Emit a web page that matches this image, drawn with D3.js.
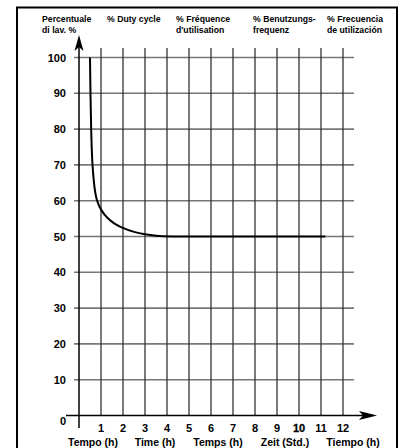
<!DOCTYPE html>
<html>
<head>
<meta charset="utf-8">
<script src="https://cdn.jsdelivr.net/npm/d3@7/dist/d3.min.js"></script>
<style>
  html, body { margin: 0; padding: 0; background: #fff; }
  svg { display: block; font-family: "Liberation Sans", Arial, sans-serif; font-weight: bold; }
</style>
</head>
<body>
<svg id="chart" width="401" height="448"></svg>
<script>
// Duty cycle (%) versus operating time (h)
const hours = [0.5, 0.52, 0.55, 0.6, 0.7, 0.8, 1, 1.3, 1.6, 2, 2.5, 3, 3.5, 4, 6, 8, 10, 11.2];
const dutyCycle = [100, 90, 80, 70, 63.5, 60, 57.3, 55, 53.6, 52.3, 51.2, 50.6, 50.2, 50, 50, 50, 50, 50];

const xTicks = [1, 2, 3, 4, 5, 6, 7, 8, 9, 10, 11, 12];
const yTicks = [10, 20, 30, 40, 50, 60, 70, 80, 90, 100];

const yTitle = ["Percentuale", "di lav. %"];
const headerTitles = [
  ["% Duty cycle"],
  ["% Fréquence", "d'utilisation"],
  ["% Benutzungs-", "frequenz"],
  ["% Frecuencia", "de utilización"]
];
const footerTitles = ["Tempo (h)", "Time (h)", "Temps (h)", "Zeit (Std.)", "Tiempo (h)"];

const svg = d3.select("#chart");

const x = d3.scaleLinear().domain([0, 12]).range([79, 343]);
const y = d3.scaleLinear().domain([0, 100]).range([415.5, 57.5]);

// outer frame
svg.append("path")
  .attr("d", "M17,449 V7.5 H397 V449")
  .attr("fill", "none").attr("stroke", "#000").attr("stroke-width", 2);

// horizontal grid
svg.append("g").selectAll("line").data(yTicks).join("line")
  .attr("x1", 74).attr("x2", 354)
  .attr("y1", d => y(d)).attr("y2", d => y(d))
  .attr("stroke", "#777").attr("stroke-width", 1.6);

// vertical grid
svg.append("g").selectAll("line").data(xTicks).join("line")
  .attr("x1", d => x(d)).attr("x2", d => x(d))
  .attr("y1", 48).attr("y2", y(0))
  .attr("stroke", "#333").attr("stroke-width", 1.3);

// x axis with arrow
svg.append("line")
  .attr("x1", 66).attr("x2", 364)
  .attr("y1", y(0)).attr("y2", y(0))
  .attr("stroke", "#000").attr("stroke-width", 1.5);
svg.append("path")
  .attr("d", `M377,${y(0)} L359,${y(0) - 4.5} L363,${y(0)} L359,${y(0) + 4.5} Z`)
  .attr("fill", "#000");

// y axis with arrow
svg.append("line")
  .attr("x1", x(0)).attr("x2", x(0))
  .attr("y1", 46).attr("y2", 428)
  .attr("stroke", "#000").attr("stroke-width", 1.5);
svg.append("path")
  .attr("d", `M${x(0)},35 L${x(0) - 4.5},51 L${x(0)},47 L${x(0) + 4.5},51 Z`)
  .attr("fill", "#000");

// y tick labels
svg.append("g").selectAll("text").data(yTicks).join("text")
  .attr("x", 66).attr("y", d => y(d) + 4)
  .attr("text-anchor", "end").attr("font-size", 11)
  .text(d => d);
svg.append("text").attr("x", 66).attr("y", 425)
  .attr("text-anchor", "end").attr("font-size", 11).text("0");

// x tick labels
svg.append("g").selectAll("text").data(xTicks).join("text")
  .attr("x", d => x(d)).attr("y", 432)
  .attr("text-anchor", "middle").attr("font-size", 11)
  .attr("stroke", d => d === 10 ? "#000" : "none").attr("stroke-width", 0.3)
  .text(d => d);

// duty cycle curve
const curve = d3.line()
  .x((d, i) => x(hours[i]))
  .y(d => y(d))
  .curve(d3.curveBasis);
svg.append("path")
  .datum(dutyCycle)
  .attr("d", curve)
  .attr("fill", "none").attr("stroke", "#000").attr("stroke-width", 2);

// header titles
const hdr = svg.append("g").attr("font-size", 8.7);
yTitle.forEach((t, i) => hdr.append("text").attr("x", 42).attr("y", 21.5 + i * 11).text(t));
const headerX = [107, 176, 253, 327];
headerTitles.forEach((lines, j) => {
  lines.forEach((t, i) => hdr.append("text").attr("x", headerX[j]).attr("y", 21.5 + i * 11).text(t));
});

// footer titles
const footerX = [93, 155, 218, 285, 353];
svg.append("g").selectAll("text").data(footerTitles).join("text")
  .attr("x", (d, i) => footerX[i]).attr("y", 445.5)
  .attr("text-anchor", "middle").attr("font-size", 10.5)
  .text(d => d);
</script>
</body>
</html>
